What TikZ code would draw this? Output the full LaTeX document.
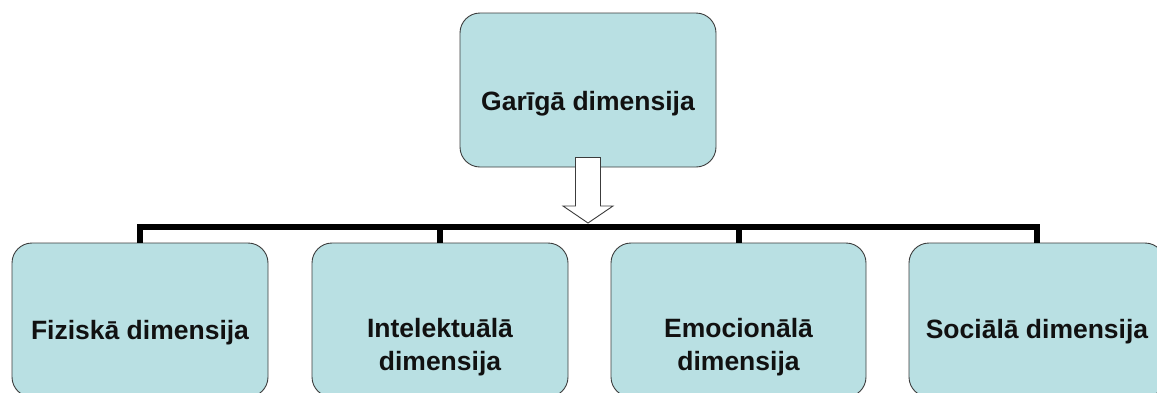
\documentclass[tikz,border=0pt]{standalone}
\usepackage{fontspec}
\setmainfont{Liberation Sans}
\usetikzlibrary{calc}
\definecolor{boxfill}{HTML}{B9E0E3}
\definecolor{boxline}{HTML}{3C3C3C}
\definecolor{textcol}{HTML}{111111}
\begin{document}
\begin{tikzpicture}[x=1pt,y=-1pt,
  dimbox/.style={draw=boxline, line width=0.9pt, fill=boxfill, rounded corners=20pt,
    minimum width=256pt, minimum height=154pt, inner sep=0pt},
  dimtext/.style={font=\fontsize{26.5}{33}\selectfont\bfseries, text=textcol,
    align=center, inner sep=0pt, anchor=base},
  busline/.style={line width=6pt, line join=miter, draw=black},
  blockarrow/.style={draw=boxline, line width=0.9pt, fill=white, line join=miter}
]
\useasboundingbox (0,0) rectangle (1157,392);
\clip (0,0) rectangle (1157,392);

% boxes
\node[dimbox] (gar) at (588,90) {};
\node[dimbox] (fiz) at (140,320) {};
\node[dimbox] (int) at (440,320) {};
\node[dimbox, minimum width=255pt] (emo) at (738.5,320) {};
\node[dimbox] (soc) at (1037,320) {};

% labels (base anchor sits on the last line of a two-line label)
\node[dimtext] (gar-t) at ($(gar.center)+(0,20)$) {Garīgā dimensija};
\node[dimtext] (fiz-t) at ($(fiz.center)+(0,19)$) {Fiziskā dimensija};
\node[dimtext] (int-t) at ($(int.center)+(0,50)$) {Intelektuālā\\dimensija};
\node[dimtext] (emo-t) at ($(emo.center)+(0,50)$) {Emocionālā\\dimensija};
\node[dimtext] (soc-t) at ($(soc.center)+(0,18)$) {Sociālā dimensija};

% bus joining the lower boxes
\coordinate (bus) at (588,227);

% block arrow from the top box down to the bus
\draw[blockarrow]
  ($(gar.south)+(-12.5,-10)$) -- ($(bus)+(-12.5,-21)$) -- ($(bus)+(-25,-21)$)
  -- ($(bus)+(0,-4)$) -- ($(bus)+(25,-21)$) -- ($(bus)+(12.5,-21)$)
  -- ($(gar.south)+(12.5,-10)$) -- cycle;

\draw[busline] (fiz.north) |- (bus) -| (soc.north);
\draw[busline] (int.north) -- (int.north |- bus);
\draw[busline] (emo.north) -- (emo.north |- bus);
\end{tikzpicture}
\end{document}
